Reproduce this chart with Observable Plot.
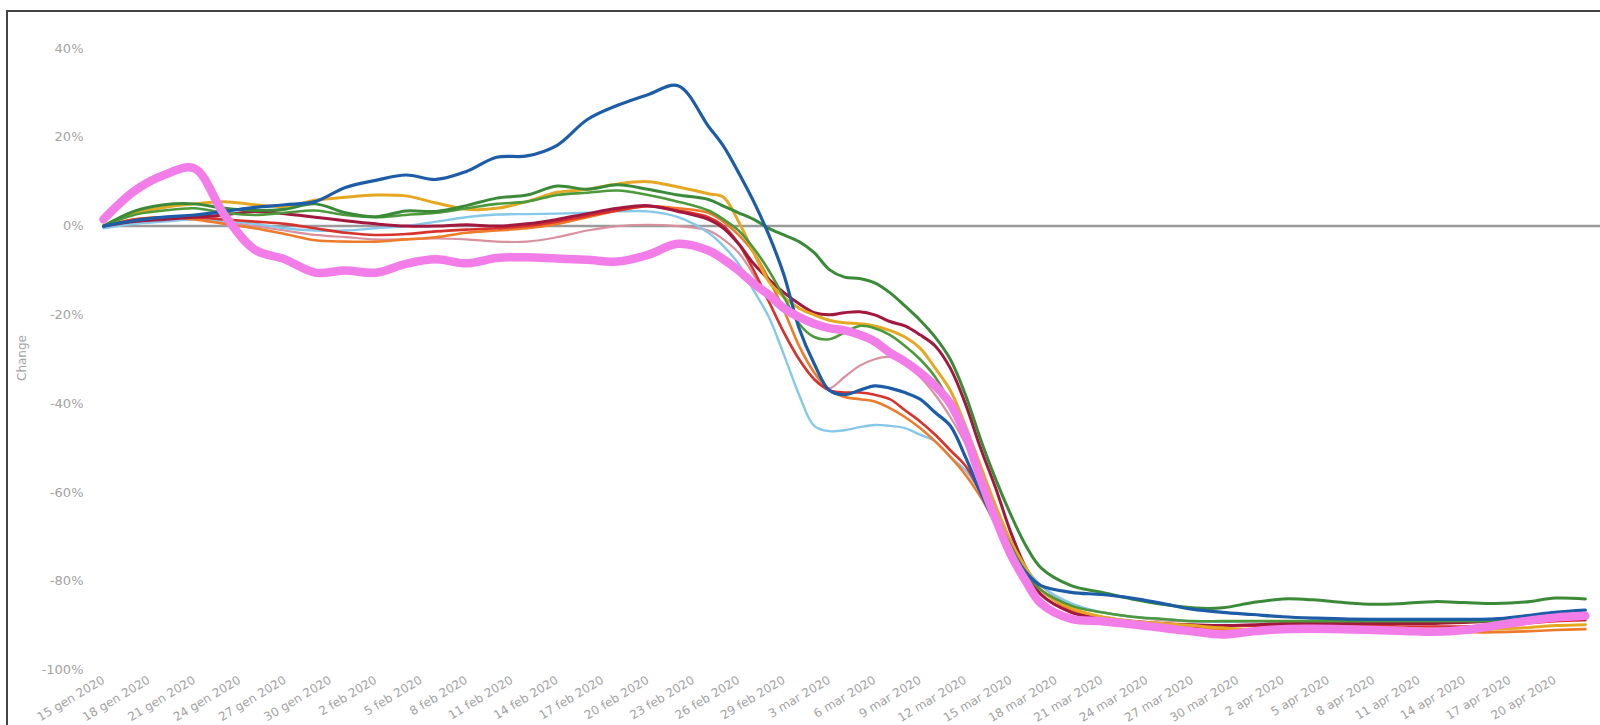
<!DOCTYPE html>
<html><head><meta charset="utf-8">
<script src="https://cdn.jsdelivr.net/npm/d3@7"></script>
<script src="https://cdn.jsdelivr.net/npm/@observablehq/plot@0.6"></script>
<style>
body{margin:0;background:#fff;}
#wrap{position:relative;width:1600px;height:725px;overflow:hidden;background:#fff;}
#frame{position:absolute;left:6px;top:10px;width:1620px;height:740px;border-top:2px solid #444;border-left:2px solid #444;pointer-events:none;}
</style></head><body><div id="wrap"><div id="chart"></div><div id="frame"></div></div>
<script>
// day offsets from 15 gen 2020
const days = [0,2,4,6,8,10,12,14,16,18,20,22,24,26,28,30,32,34,36,38,40,
  41,42,43,44,45,46,47,48,49,50,51,52,53,54,55,56,57,58,59,60,61,62,
  64,66,68,70,72,74,76,78,80,82,84,86,88,90,92,94,96,98];

const pink = [1.5,7.8,11.5,13,2.5,-5.3,-7.5,-10.5,-10,-10.5,-8.5,-7.5,-8.4,-7.2,-7,-7.3,-7.6,-8,-6.5,-4,-5.5,
  -7.5,-10,-13,-15.5,-18.5,-20.5,-22,-23,-23.5,-24.5,-26,-28.5,-30.5,-33,-36,-40,-47,-57,-66,-74,-80,-85,
  -88.5,-89,-89.7,-90.5,-91.3,-92,-91.3,-90.8,-90.7,-90.8,-91,-91.2,-91.4,-91,-90,-89,-88.2,-87.8];
const blue = [0,1.2,2,2.5,3.3,4.2,4.8,5.5,8.7,10.3,11.5,10.5,12.3,15.5,15.8,18.2,24,27.2,29.6,31.6,22.5,
  18,12,5.5,-2,-11,-23,-31,-37,-38,-37,-36,-36.5,-37.5,-39,-42,-45,-52,-60,-67,-73,-78,-81,
  -82.5,-83,-83.8,-85,-86.3,-87,-87.5,-88,-88.3,-88.5,-88.6,-88.6,-88.6,-88.6,-88.5,-87.8,-87,-86.5];
const greenA = [0,3.3,4.8,5,4,3.5,3.8,5,3,2.1,3.4,3.3,4.6,6.3,7,9,8.3,9.3,8.3,7,6,
  4.5,3,1.5,-0.5,-2,-3.5,-6,-9.8,-11.5,-11.8,-12.8,-15,-18,-21.2,-25,-30,-38,-48,-57,-65,-72,-77,
  -81,-82.5,-84,-85.2,-86,-86,-84.8,-84,-84.2,-84.8,-85.2,-85,-84.6,-84.8,-85,-84.7,-83.8,-84];
const greenB = [0,2.5,3.5,4,3,2.5,3,3.5,2.5,2,2.5,3,4,5,5.5,7,7.5,8,7,5.5,3.5,
  1.5,-1,-5,-10,-16,-22,-25,-25.5,-24,-22.5,-23,-24.5,-27,-30,-34,-40,-48,-57,-65,-72,-78,-82,
  -85.5,-87,-88,-88.5,-89,-89,-89,-89,-89,-89,-89,-89,-89,-89,-89,-88.8,-88.5,-88.3];
const yellow = [0,2.8,4.2,5,5.5,4.8,4.4,5.8,6.5,7,6.8,5.2,3.8,4,5.5,7.6,8.3,9.5,10,8.8,7.3,
  6.5,1,-6,-12.5,-16,-18.5,-20,-21.2,-21.8,-22,-22.5,-23.5,-25,-27.5,-32,-37,-45,-54,-63,-71,-77,-82,
  -86,-88,-89,-89.5,-90,-90.5,-90.8,-90.5,-90.3,-90.3,-90.5,-90.6,-90.8,-90.8,-90.8,-90.5,-90,-89.8];
const orange = [0,1.5,2,1.5,0.5,-0.5,-1.8,-3.2,-3.5,-3.5,-3,-2.5,-1.5,-1,-0.5,0.5,2,3.5,4.5,4,3,
  1,-2,-6,-12,-19,-27,-33,-37,-38.5,-39,-39.5,-41,-43,-45.5,-48.5,-52,-56,-61,-67,-73,-78,-82,
  -86.5,-88,-89,-90,-90.5,-91,-91.5,-91.3,-91,-91,-91.3,-91.5,-91.5,-91.5,-91.5,-91.3,-91,-90.8];
const red = [0,1.5,2,2,1.5,1,0.5,-0.5,-1.5,-2,-1.8,-1.2,-0.8,-0.5,0,1,2.3,3.5,4.5,3.5,2,
  0,-4,-10,-17,-24,-30,-34.5,-37,-37.5,-37.5,-38,-39,-41.5,-44,-47,-50.5,-54,-60,-66,-72,-78,-83,
  -87,-88.5,-89.5,-90.5,-90.5,-90,-90,-89.8,-90,-90,-90,-90.2,-90.2,-90.2,-90,-89.5,-89,-88.8];
const maroon = [0,1,1.5,2,2.5,3.3,2.8,2,1.2,0.5,0,0,0.3,0,0.5,1.5,2.8,4,4.6,3.3,1.5,
  -0.5,-4,-8.5,-12,-15,-17.5,-19.5,-20,-19.5,-19.3,-20,-21.5,-22.5,-24.5,-27,-32,-40,-50,-59,-69,-77,-83,
  -87,-88.5,-89,-89.5,-89.8,-90,-89.8,-89.5,-89.5,-89.5,-89.5,-89.5,-89.5,-89.3,-89,-88.8,-88.5,-88.5];
const lightBlue = [-0.5,0.5,1,1.5,1.2,0.5,-0.5,-1,-1,-0.5,0,1,2,2.6,2.7,2.8,3,3.3,3.3,2,-1.5,
  -4.5,-8.5,-14.5,-20.5,-29,-38,-45,-46.2,-46,-45.3,-44.8,-45,-45.5,-47,-48.5,-52,-55,-60,-66,-72,-77,-81,
  -85,-87,-88,-88.5,-89,-89.2,-89,-89,-89,-89,-89,-89,-89,-89,-88.8,-88.5,-88.2,-88];
const mauve = [0,1,1.5,1.5,1,0,-1,-2,-2.5,-3,-3,-2.8,-3,-3.5,-3.5,-2.5,-1,0,0.3,0,-1,
  -3,-6,-11,-17,-24,-30,-34.5,-36.5,-34,-31.5,-30,-29.5,-31,-34,-38,-43,-49,-56,-64,-71,-77,-81,
  -85.5,-87,-88,-88.8,-89,-89,-89,-89,-89,-89,-89,-89,-89,-89,-89,-88.8,-88.5,-88.3];

const yTicks = [40,20,0,-20,-40,-60,-80,-100];
const tickDays = d3.range(0, 97, 3);
const monthNames = ["gen","feb","mar","apr"];

const start = Date.UTC(2020,0,15);
const toDate = d => new Date(start + d*864e5);

const series = [
  {values: mauve, color: "#d9909f", width: 2.2},
  {values: lightBlue, color: "#86c8ea", width: 2.4},
  {values: orange, color: "#ee7b2c", width: 2.6},
  {values: red, color: "#d8322c", width: 2.6},
  {values: maroon, color: "#a3183f", width: 3},
  {values: yellow, color: "#e6a822", width: 3},
  {values: greenB, color: "#4c9a3c", width: 2.6},
  {values: greenA, color: "#3a8a38", width: 3},
  {values: blue, color: "#1d5ca7", width: 3.2},
  {values: pink, color: "#f27de8", width: 8.5}
];

const lineMarks = series.map(s => Plot.line(
  days.map((d,i) => ({date: toDate(d), value: s.values[i]})),
  {x: "date", y: "value", stroke: s.color, strokeWidth: s.width, curve: "catmull-rom", strokeLinejoin: "round", strokeLinecap: "round"}
));

const chart = Plot.plot({
  width: 1600, height: 725,
  marginLeft: 103, marginRight: 0, marginTop: 48, marginBottom: 55.5,
  x: {type: "utc", domain: [toDate(0), toDate(99)]},
  y: {domain: [-100, 40]},
  style: {fontFamily: "'DejaVu Sans', sans-serif", fontSize: "13px", color: "#a3a3a3", background: "transparent"},
  marks: [
    Plot.ruleY([0], {stroke: "#9a9a9a", strokeWidth: 2.5}),
    ...lineMarks,
    Plot.axisY({ticks: yTicks, tickFormat: d => d + "%", tickSize: 0, tickPadding: 20, label: null, fontSize: 13}),
    Plot.axisX({ticks: tickDays.map(toDate), tickFormat: d => `${d.getUTCDate()} ${monthNames[d.getUTCMonth()]} 2020`,
      tickRotate: -31, tickSize: 0, tickPadding: 9, label: null, fontSize: 12})
  ]
});
document.getElementById("chart").appendChild(chart);
d3.select(chart).append("text")
  .attr("transform", "translate(26,358) rotate(-90)")
  .attr("text-anchor", "middle")
  .attr("fill", "#a3a3a3")
  .style("font-size", "12px")
  .text("Change");
</script></body></html>
